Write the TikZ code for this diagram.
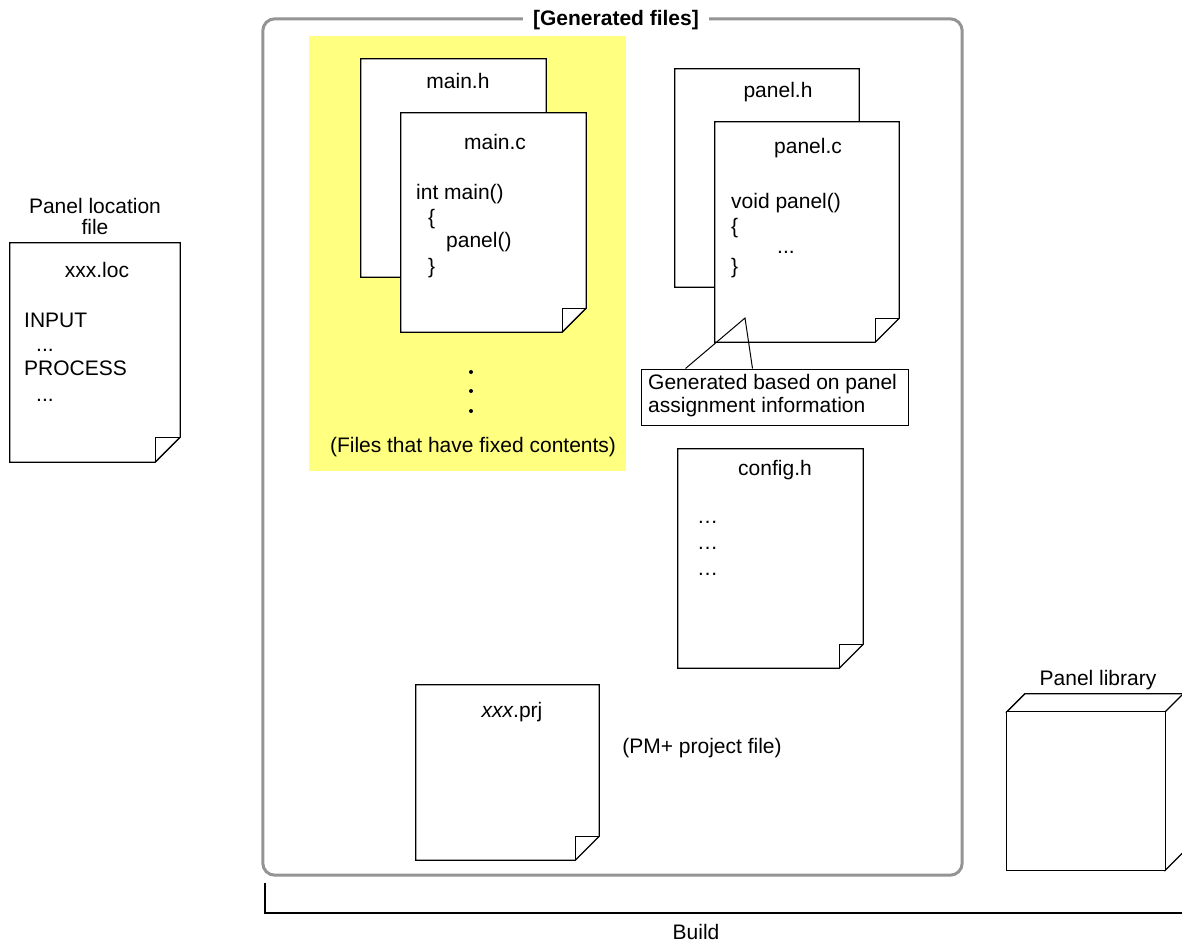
\documentclass[tikz,border=0pt]{standalone}
\usepackage{fontspec}
\setmainfont{Liberation Sans}
\begin{document}
\begin{tikzpicture}[x=1pt,y=-1pt,
  docline/.style={draw=black,line width=1.3pt,fill=white,line join=miter},
  docbox/.style={rectangle,draw=none,inner sep=0pt},
  txt/.style={inner sep=0pt,font=\fontsize{21}{25}\selectfont},
  framebox/.style={draw=black!42,line width=3pt,rounded corners=12pt},
  dotmark/.style={circle,fill=black,inner sep=0pt,minimum size=4pt}]
\definecolor{softyellow}{RGB}{255,255,128}
\useasboundingbox (0,0) rectangle (1182,945);
\newcommand\docfold[2]{%
  \filldraw[docline] (#1.north west) -- (#1.north east) -- ([yshift=#2]#1.south east)
    -- ([xshift=-#2]#1.south east) -- (#1.south west) -- cycle;
  \draw[docline,fill=none] ([yshift=#2]#1.south east) -- ([xshift=-#2,yshift=#2]#1.south east)
    -- ([xshift=-#2]#1.south east);}

% big frame
\node[docbox,minimum width=699pt,minimum height=856pt] (frame) at (612.5,447) {};
\draw[framebox] (frame.north west) rectangle (frame.south east);
\node[txt,fill=white,inner xsep=10pt,inner ysep=3pt,font=\fontsize{21}{25}\selectfont\bfseries] (title) at (616,20) {[Generated files]};

% yellow area
\node[docbox,fill=softyellow,minimum width=317pt,minimum height=435pt] (fixed) at (467.5,253.5) {};

% left file
\node[txt,anchor=base] (loclabel) at (95,213) {Panel location};
\node[txt,anchor=base] (loclabelb) at (95,234) {file};
\node[docbox,minimum width=170pt,minimum height=219pt] (loc) at (95,352.5) {};
\docfold{loc}{25pt}
\node[txt,anchor=base] (locname) at (97,277) {xxx.loc};
\node[txt,anchor=base west] (loc1) at (24,327) {INPUT};
\node[txt,anchor=base west] (loc2) at (36,351) {...};
\node[txt,anchor=base west] (loc3) at (24,375) {PROCESS};
\node[txt,anchor=base west] (loc4) at (36,401) {...};

% main.h / main.c
\node[docbox,minimum width=185pt,minimum height=218pt] (mainh) at (453.5,168) {};
\docfold{mainh}{24pt}
\node[txt,anchor=base] (mainhname) at (458,88) {main.h};
\node[docbox,minimum width=185pt,minimum height=219pt] (mainc) at (493.5,222.5) {};
\docfold{mainc}{24pt}
\node[txt,anchor=base] (maincname) at (495,149) {main.c};
\node[txt,anchor=base west] (mc1) at (416,199) {int main()};
\node[txt,anchor=base west] (mc2) at (428,224) {\{};
\node[txt,anchor=base west] (mc3) at (446,247) {panel()};
\node[txt,anchor=base west] (mc4) at (428,273) {\}};
\node[dotmark] (d1) at (471,372) {};
\node[dotmark] (d2) at (471,391) {};
\node[dotmark] (d3) at (471,411) {};
\node[txt,anchor=base] (fixedlabel) at (473,452) {(Files that have fixed contents)};

% panel.h / panel.c
\node[docbox,minimum width=184pt,minimum height=218pt] (panelh) at (767,178) {};
\docfold{panelh}{24pt}
\node[txt,anchor=base] (panelhname) at (778,97) {panel.h};
\node[docbox,minimum width=184pt,minimum height=220pt] (panelc) at (807,232) {};
\docfold{panelc}{24pt}
\node[txt,anchor=base] (panelcname) at (808,153) {panel.c};
\node[txt,anchor=base west] (pc1) at (731,208) {void panel()};
\node[txt,anchor=base west] (pc2) at (731,233) {\{};
\node[txt,anchor=base west] (pc3) at (777,253) {...};
\node[txt,anchor=base west] (pc4) at (731,273) {\}};

% callout
\coordinate (tip) at (745,318);
\node[docbox,draw=black,line width=1pt,fill=white,minimum width=267pt,minimum height=56pt] (callout) at (774.5,397) {};
\draw[line width=1pt] ([xshift=45pt]callout.north west) -- (tip) -- ([xshift=112pt]callout.north west);
\node[txt,anchor=base west] (calltexta) at (648,389) {Generated based on panel};
\node[txt,anchor=base west] (calltextb) at (648,412) {assignment information};

% config.h
\node[docbox,minimum width=185pt,minimum height=219pt] (config) at (770.5,558.5) {};
\docfold{config}{24pt}
\node[txt,anchor=base] (configname) at (775,475) {config.h};
\node[txt,anchor=base west] (cf1) at (697,523) {…};
\node[txt,anchor=base west] (cf2) at (697,549) {…};
\node[txt,anchor=base west] (cf3) at (697,575) {…};

% xxx.prj
\node[docbox,minimum width=183pt,minimum height=175pt] (prj) at (507.5,772.5) {};
\docfold{prj}{24pt}
\node[txt,anchor=base] (prjname) at (512,717) {\itshape xxx\upshape.prj};
\node[txt,anchor=base] (prjlabel) at (702,753) {(PM+ project file)};

% panel library cube
\node[txt,anchor=base] (liblabel) at (1098,685) {Panel library};
\node[docbox,minimum width=158pt,minimum height=158pt] (lib) at (1086,791) {};
\filldraw[docline] (lib.north west) -- ([xshift=18pt,yshift=18pt]lib.north west)
  -- ([xshift=18pt,yshift=18pt]lib.north east) -- ([xshift=18pt,yshift=18pt]lib.south east)
  -- (lib.south east) -- (lib.north east) -- cycle;
\draw[docline] (lib.north west) rectangle (lib.south east);
\draw[docline,fill=none] (lib.north east) -- ([xshift=18pt,yshift=18pt]lib.north east);

% build bracket
\coordinate (bl) at (265,883);
\coordinate (br) at (1182,913);
\draw[line width=1.3pt] (bl) |- (br);
\node[txt,anchor=base] (build) at (696,939) {Build};
\end{tikzpicture}
\end{document}
